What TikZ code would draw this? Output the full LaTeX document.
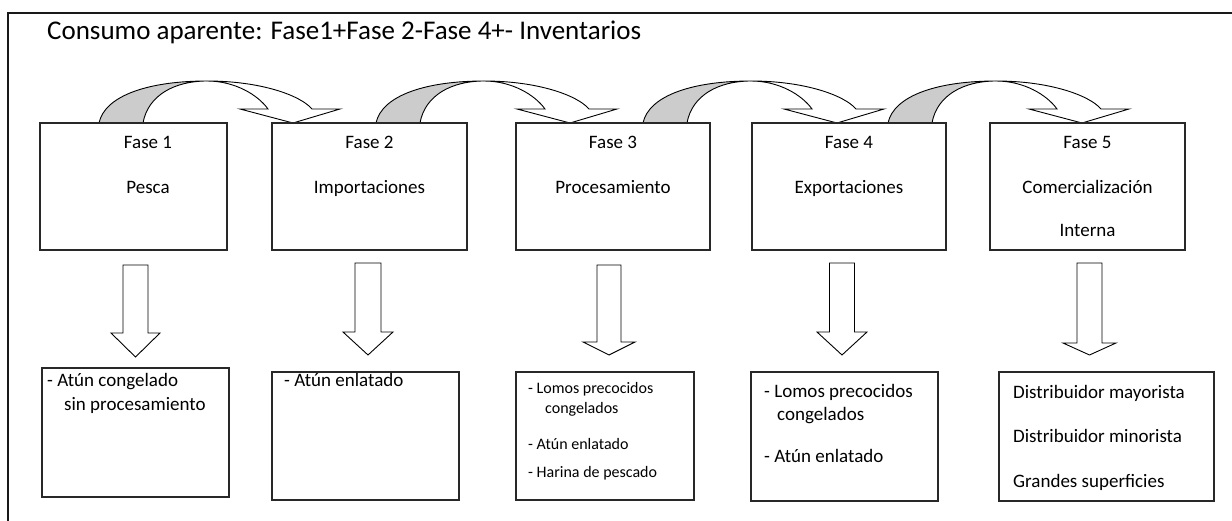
\documentclass[tikz,border=0pt]{standalone}
\usepackage{fontspec}
\setmainfont{Carlito}
\definecolor{ribbon}{RGB}{204,204,204}
\definecolor{edge}{RGB}{40,40,40}
\tikzset{
  phasebox/.style={draw=edge, line width=1.1pt, anchor=north west, inner sep=0pt, outer sep=0pt},
  lbl/.style={font=\fontsize{19}{23}\selectfont, inner sep=0pt, text=black},
  lblsmall/.style={font=\fontsize{16}{19}\selectfont, inner sep=0pt, text=black},
  titlefont/.style={font=\fontsize{27}{32}\selectfont, inner sep=0pt, text=black},
  blockarrow/.style={draw=black, line width=0.9pt, fill=white, line join=miter},
  ribbonback/.style={draw=black, line width=0.9pt, fill=ribbon},
  ribbonfront/.style={draw=black, line width=0.9pt, fill=white, line join=miter},
  frameline/.style={draw=black!90, line width=2pt}
}
\newcommand{\blockdown}[6]{%
  \draw[blockarrow] (#1-#5,#2) -- (#1+#5,#2) -- (#1+#5,#3) -- (#1+#6,#3)
    -- (#1,#4) -- (#1-#6,#3) -- (#1-#5,#3) -- cycle;}
\newcommand{\ribbonarrow}[1]{%
  \begin{scope}[shift={(#1,0)}]
    \draw[ribbonback] (0,123) .. controls (6,95) and (51,81) .. (108,81)
      .. controls (76,81) and (49,95) .. (44,123) -- cycle;
    \draw[ribbonfront] (108,81) .. controls (161,81) and (201,95) .. (213,109)
      -- (241,109) -- (194,123) -- (141,109) -- (169,109)
      .. controls (159,95) and (136,81) .. (108,81) -- cycle;
  \end{scope}}
\begin{document}
\begin{tikzpicture}[x=1pt,y=-1pt]
\useasboundingbox (0,0) rectangle (1232,521);
\fill[white] (0,0) rectangle (1232,521);
% outer frame (only top and left edges visible)
\coordinate (fc) at (8,13);
\coordinate (fr) at (1233,13);
\coordinate (fb) at (8,522);
\draw[frameline] (fr) -- (fc) -- (fb);

% title
\node[titlefont, anchor=base west] (title) at (47,40) {Consumo aparente: Fase1+Fase 2-Fase 4+- Inventarios};

% curved arrows
\ribbonarrow{99}
\ribbonarrow{376}
\ribbonarrow{643}
\ribbonarrow{888}

% top phase boxes
\node[phasebox, minimum width=187pt, minimum height=127pt] (f1) at (40,123) {};
\node[phasebox, minimum width=195pt, minimum height=127pt] (f2) at (272,123) {};
\node[phasebox, minimum width=194pt, minimum height=127pt] (f3) at (516,123) {};
\node[phasebox, minimum width=194pt, minimum height=127pt] (f4) at (752,123) {};
\node[phasebox, minimum width=195pt, minimum height=127pt] (f5) at (990,123) {};

\node[lbl, anchor=base] (f1a) at (148,149) {Fase 1};
\node[lbl, anchor=base] (f1b) at (148,194) {Pesca};
\node[lbl, anchor=base] (f2a) at (369.5,149) {Fase 2};
\node[lbl, anchor=base] (f2b) at (369.5,194) {Importaciones};
\node[lbl, anchor=base] (f3a) at (613,149) {Fase 3};
\node[lbl, anchor=base] (f3b) at (613,194) {Procesamiento};
\node[lbl, anchor=base] (f4a) at (849,149) {Fase 4};
\node[lbl, anchor=base] (f4b) at (849,194) {Exportaciones};
\node[lbl, anchor=base] (f5a) at (1087.5,149) {Fase 5};
\node[lbl, anchor=base] (f5b) at (1087.5,194) {Comercialización};
\node[lbl, anchor=base] (f5c) at (1087.5,237) {Interna};

% down block arrows
\blockdown{135.5}{265}{333}{357}{12.5}{24.5}
\blockdown{368}{263}{332}{355}{13}{25}
\blockdown{609}{265}{342}{355}{12}{26}
\blockdown{842}{263}{332}{355}{12.5}{25}
\blockdown{1089.5}{263}{343}{355}{12.5}{26.5}

% bottom boxes
\node[phasebox, minimum width=187pt, minimum height=129pt] (b1) at (42,368) {};
\node[phasebox, minimum width=187pt, minimum height=128pt] (b2) at (272,372) {};
\node[phasebox, minimum width=178pt, minimum height=128pt] (b3) at (516,372) {};
\node[phasebox, minimum width=187pt, minimum height=129pt] (b4) at (751,372) {};
\node[phasebox, minimum width=215pt, minimum height=129pt] (b5) at (999,372) {};

\node[lbl, anchor=base west] (b1a) at (47,386) {- Atún congelado};
\node[lbl, anchor=base west] (b1b) at (64,410) {sin procesamiento};

\node[lbl, anchor=base west] (b2a) at (284,386) {- Atún enlatado};

\node[lblsmall, anchor=base west] (b3a) at (528,393) {- Lomos precocidos};
\node[lblsmall, anchor=base west] (b3b) at (545,413) {congelados};
\node[lblsmall, anchor=base west] (b3c) at (528,449) {- Atún enlatado};
\node[lblsmall, anchor=base west] (b3d) at (528,477) {- Harina de pescado};

\node[lbl, anchor=base west] (b4a) at (764,397) {- Lomos precocidos};
\node[lbl, anchor=base west] (b4b) at (777,420) {congelados};
\node[lbl, anchor=base west] (b4c) at (764,462) {- Atún enlatado};

\node[lbl, anchor=base west] (b5a) at (1013,398) {Distribuidor mayorista};
\node[lbl, anchor=base west] (b5b) at (1013,442) {Distribuidor minorista};
\node[lbl, anchor=base west] (b5c) at (1013,487) {Grandes superficies};
\end{tikzpicture}
\end{document}
